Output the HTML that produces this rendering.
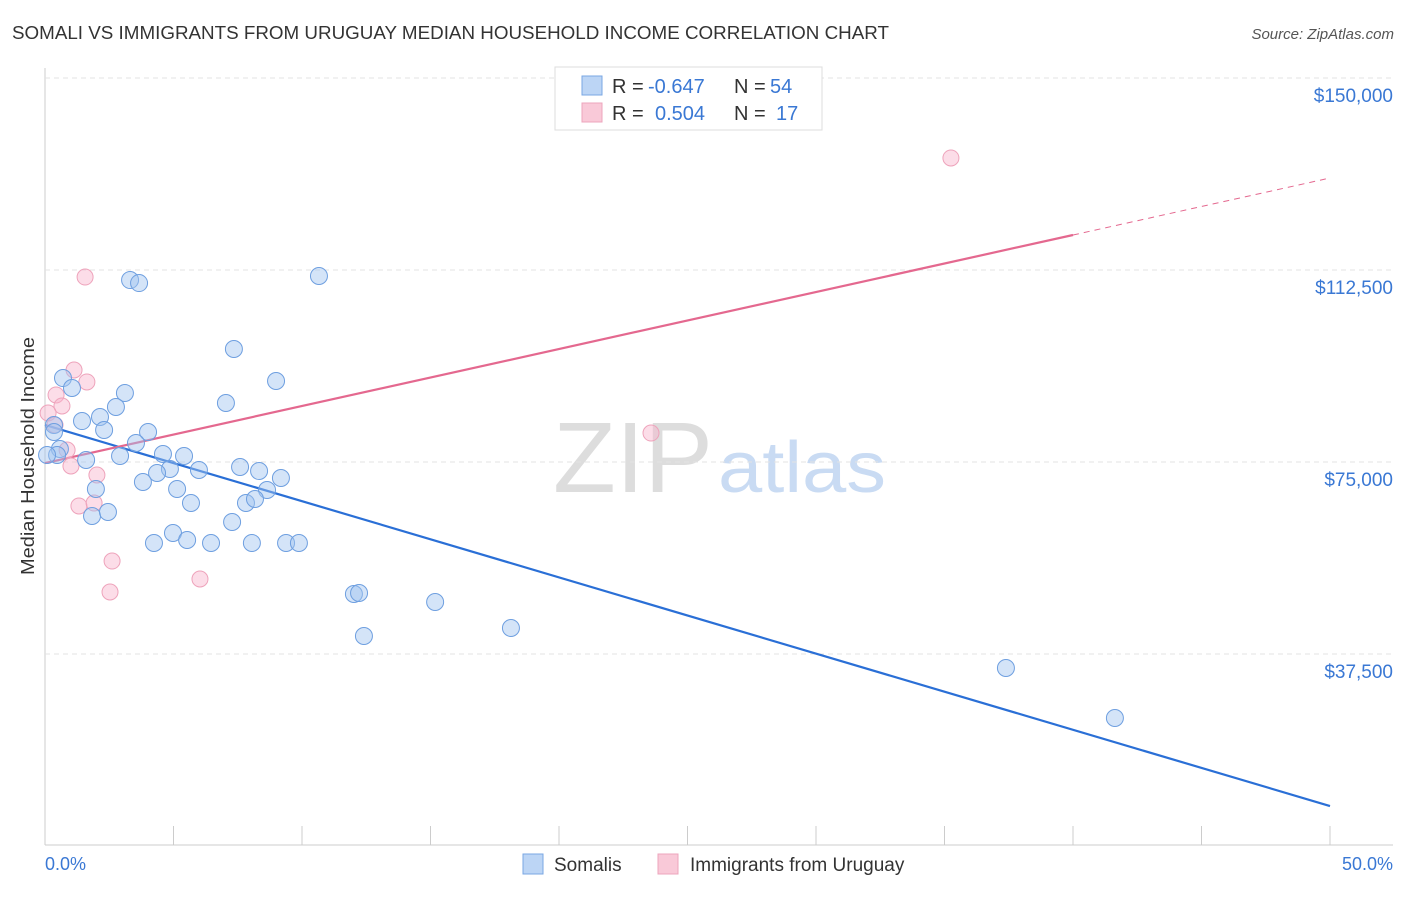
<!DOCTYPE html>
<html><head><meta charset="utf-8"><style>
body{margin:0;background:#fff;font-family:"Liberation Sans",sans-serif}
svg text{font-family:"Liberation Sans",sans-serif}
</style></head><body>
<svg id="chart" width="1406" height="892">
<text x="12" y="39" font-size="18" fill="#333" textLength="877" lengthAdjust="spacingAndGlyphs">SOMALI VS IMMIGRANTS FROM URUGUAY MEDIAN HOUSEHOLD INCOME CORRELATION CHART</text>
<text x="1394" y="39" font-size="15" fill="#555" text-anchor="end" font-style="italic">Source: ZipAtlas.com</text>
<text x="553" y="492" font-size="100" fill="#ddd" font-family="Liberation Serif" textLength="160" lengthAdjust="spacingAndGlyphs">ZIP</text>
<text x="718" y="492" font-size="72" fill="#c9dbf3" textLength="168" lengthAdjust="spacingAndGlyphs">atlas</text>
<text x="34" y="456" font-size="18" fill="#333" text-anchor="middle" textLength="238" lengthAdjust="spacingAndGlyphs" transform="rotate(-90 34 456)">Median Household Income</text>
<g id="grid"></g><g id="lines"></g><g id="pts"></g>
<text x="45" y="870" font-size="18" fill="#3a78d4">0.0%</text>
<text x="1393" y="870" font-size="18" fill="#3a78d4" text-anchor="end">50.0%</text>
<g>
<rect x="555" y="67" width="267" height="63" fill="#fff" stroke="#ddd"/>
<rect x="582" y="76" width="20" height="19" fill="#bcd5f5" stroke="#7aa7e3"/>
<rect x="582" y="103" width="20" height="19" fill="#f9c9d8" stroke="#eda5bc"/>
<text x="612" y="93" font-size="20" fill="#333">R =</text>
<text x="648" y="93" font-size="20" fill="#3a78d4">-0.647</text>
<text x="734" y="93" font-size="20" fill="#333">N =</text>
<text x="770" y="93" font-size="20" fill="#3a78d4">54</text>
<text x="612" y="120" font-size="20" fill="#333">R =</text>
<text x="655" y="120" font-size="20" fill="#3a78d4">0.504</text>
<text x="734" y="120" font-size="20" fill="#333">N =</text>
<text x="776" y="120" font-size="20" fill="#3a78d4">17</text>
</g>
<g>
<rect x="523" y="854" width="20" height="20" fill="#bcd5f5" stroke="#7aa7e3"/>
<text x="554" y="871" font-size="19" fill="#333">Somalis</text>
<rect x="658" y="854" width="20" height="20" fill="#f9c9d8" stroke="#eda5bc"/>
<text x="690" y="871" font-size="19" fill="#333">Immigrants from Uruguay</text>
</g>
</svg>
<script>
const yTicks=[37500,75000,112500,150000];
const yTickLabels=["$37,500","$75,000","$112,500","$150,000"];
const blueX=[3.31,3.66,10.66,7.35,8.99,0.70,1.05,3.11,2.76,7.04,2.14,1.44,0.35,2.30,4.01,3.54,2.92,4.59,5.41,1.60,0.58,0.47,4.86,5.99,7.59,8.33,4.36,3.81,9.18,5.14,1.98,8.64,5.68,7.82,8.17,7.28,1.83,2.45,4.98,5.53,4.24,6.46,8.05,9.38,9.88,12.02,12.22,12.41,15.18,18.13,37.39,41.63,0.08,0.35];
const blueY=[110540,109950,111330,97070,90820,91400,89450,88480,85740,86520,83790,83000,82230,81250,80860,78710,76170,76560,76170,75390,77540,76370,73630,73440,74020,73240,72850,71090,71870,69730,69730,69530,66990,66990,67770,63280,64450,65230,61130,59770,59180,59180,59180,59180,59180,49220,49410,41020,47660,42580,34770,25000,76370,80860];
const pinkX=[1.56,35.25,1.13,1.63,0.43,0.66,0.12,0.39,0.86,1.01,2.02,1.32,1.91,2.61,2.53,6.03,23.58];
const pinkY=[111130,134380,92970,90630,88090,85940,84570,82230,77340,74220,72460,66410,66990,55660,49610,52150,80660];
const blueTrend=[82230,7810];
const pinkTrend=[74800,130470];
const pinkSolidEnd=40;
const NS="http://www.w3.org/2000/svg";
const X=v=>45+v/50*1285, Y=v=>846-v/37500*192;
function mk(tag,attrs,parent){const e=document.createElementNS(NS,tag);for(const k in attrs)e.setAttribute(k,attrs[k]);parent.appendChild(e);return e;}
const grid=document.getElementById('grid');
mk('line',{x1:45,y1:68,x2:45,y2:845,stroke:'#ccc'},grid);
mk('line',{x1:45,y1:845,x2:1393,y2:845,stroke:'#ccc'},grid);
for(let i=0;i<=10;i++){const l=mk('line',{x1:X(i*5),y1:826,x2:X(i*5),y2:845,stroke:'#ccc'},grid);

}
yTicks.forEach((t,i)=>{const g=mk('line',{x1:45,y1:Y(t),x2:1393,y2:Y(t),stroke:'#e3e3e3','stroke-dasharray':'5,4'},grid);


const tx=mk('text',{x:1393,y:Y(t)+24,'font-size':19,fill:'#3a78d4','text-anchor':'end'},grid);tx.textContent=yTickLabels[i];

});
const pts=document.getElementById('pts');
pinkX.forEach((x,i)=>{const c=mk('circle',{cx:X(x),cy:Y(pinkY[i]),r:8,fill:'rgba(248,180,204,0.45)',stroke:'#eea3bb','stroke-width':1},pts);

});
blueX.forEach((x,i)=>{const c=mk('circle',{cx:X(x),cy:Y(blueY[i]),r:8.5,fill:'rgba(160,196,240,0.45)',stroke:'#6e9fe0','stroke-width':1},pts);

});
const lines=document.getElementById('lines');
const bl=mk('line',{x1:X(0),y1:Y(blueTrend[0]),x2:X(50),y2:Y(blueTrend[1]),stroke:'#2a6fd6','stroke-width':2.2},lines);


const pe=pinkTrend[0]+(pinkTrend[1]-pinkTrend[0])*pinkSolidEnd/50;
const pl=mk('line',{x1:X(0),y1:Y(pinkTrend[0]),x2:X(pinkSolidEnd),y2:Y(pe),stroke:'#e4688f','stroke-width':2.2},lines);


const pd=mk('line',{x1:X(pinkSolidEnd),y1:Y(pe),x2:X(50),y2:Y(pinkTrend[1]),stroke:'#e4688f','stroke-width':1,'stroke-dasharray':'6,5'},lines);


</script>
</body></html>
